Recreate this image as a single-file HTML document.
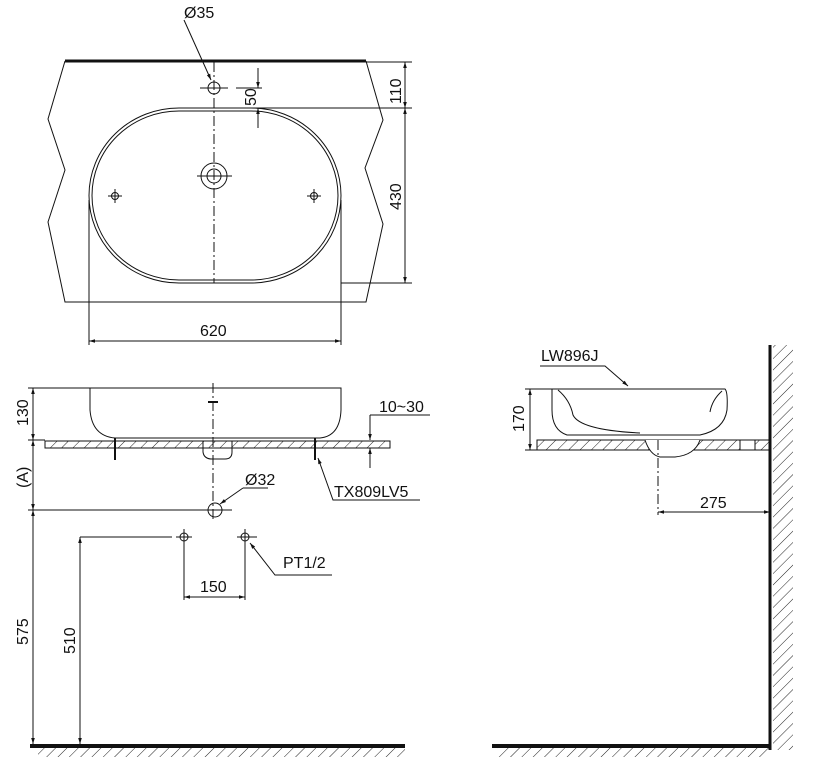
<!DOCTYPE html>
<html><head><meta charset="utf-8"><style>
html,body{margin:0;padding:0;background:#fff;}
svg{display:block;font-family:"Liberation Sans",Arial,sans-serif;}
text{font-size:16px;fill:#111;}
</style></head><body>
<svg width="816" height="778" viewBox="0 0 816 778" xmlns="http://www.w3.org/2000/svg">
<defs>
<pattern id="h" patternUnits="userSpaceOnUse" width="8" height="8" patternTransform="rotate(45)">
<line x1="0" y1="0" x2="0" y2="8" stroke="#222" stroke-width="1"/></pattern>
<marker id="a" viewBox="0 0 10 10" refX="10" refY="5" markerWidth="9" markerHeight="6" orient="auto-start-reverse"><path d="M0,2 L10,5 L0,8z" fill="#111"/></marker>
</defs>
<g fill="none" stroke="#111" stroke-width="1">
<!-- TOP VIEW -->
<path d="M65,61 L48,119 L65,170 L48,222 L65,302 L366,302 L383,224 L365,168 L383,120 L366,61"/>
<line x1="65" y1="61" x2="366" y2="61" stroke-width="3"/>
<rect x="89" y="108" width="252" height="175" rx="90" ry="87.5"/>
<rect x="92" y="111" width="246" height="169" rx="87" ry="84.5"/>
<line x1="214" y1="62" x2="214" y2="283" stroke-dasharray="10,3,2,3"/>
<circle cx="214" cy="88" r="6"/><line x1="200" y1="88" x2="228" y2="88"/>
<circle cx="214" cy="176" r="13"/><circle cx="214" cy="176" r="7"/>
<line x1="197" y1="176" x2="232" y2="176"/>
<circle cx="115" cy="196" r="3.5"/><line x1="108" y1="196" x2="122" y2="196"/><line x1="115" y1="189" x2="115" y2="203"/>
<circle cx="314" cy="196" r="3.5"/><line x1="307" y1="196" x2="321" y2="196"/><line x1="314" y1="189" x2="314" y2="203"/>
<path d="M184,20 L211,80" marker-end="url(#a)"/>
<line x1="236" y1="88" x2="262" y2="88"/><line x1="258" y1="68" x2="258" y2="88" marker-end="url(#a)"/>
<line x1="258" y1="128" x2="258" y2="108" marker-end="url(#a)"/>
<line x1="214" y1="108" x2="412" y2="108"/>
<line x1="366" y1="62" x2="412" y2="62"/>
<line x1="341" y1="283" x2="412" y2="283"/>
<line x1="405" y1="62" x2="405" y2="108" marker-start="url(#a)" marker-end="url(#a)"/>
<line x1="405" y1="108" x2="405" y2="283" marker-start="url(#a)" marker-end="url(#a)"/>
<line x1="89" y1="200" x2="89" y2="345"/><line x1="341" y1="200" x2="341" y2="345"/>
<line x1="89" y1="341" x2="341" y2="341" marker-start="url(#a)" marker-end="url(#a)"/>
<!-- FRONT VIEW -->
<path d="M90,388 L90,410 Q92,436 115,438 L320,438 Q340,436 341,410 L341,388 Z"/>
<rect x="45" y="441" width="345" height="7" fill="url(#h)"/>
<path d="M203,441 L203,452 Q204,459 212,459 L225,459 Q232,459 232,452 L232,441"/>
<line x1="213" y1="383" x2="213" y2="520" stroke-dasharray="10,3,2,3"/>
<line x1="208" y1="402" x2="218" y2="402" stroke-width="2"/>
<line x1="115" y1="438" x2="115" y2="460" stroke-width="2"/><line x1="315" y1="438" x2="315" y2="460" stroke-width="2"/>
<line x1="28" y1="388" x2="90" y2="388"/><line x1="28" y1="440" x2="45" y2="440"/>
<line x1="33" y1="388" x2="33" y2="440" marker-start="url(#a)" marker-end="url(#a)"/>
<line x1="33" y1="440" x2="33" y2="510" marker-start="url(#a)" marker-end="url(#a)"/>
<line x1="28" y1="510" x2="232" y2="510"/>
<circle cx="215" cy="510" r="7"/>
<path d="M243,488 L268,488"/><path d="M243,488 L220,504" marker-end="url(#a)"/>
<line x1="370" y1="415" x2="370" y2="440" marker-end="url(#a)"/><line x1="370" y1="415" x2="430" y2="415"/>
<line x1="370" y1="468" x2="370" y2="448" marker-end="url(#a)"/>
<path d="M420,500 L333,500 L318,458" marker-end="url(#a)"/>
<line x1="80" y1="537" x2="172" y2="537"/>
<circle cx="184" cy="537" r="4"/><line x1="176" y1="537" x2="192" y2="537"/><line x1="184" y1="529" x2="184" y2="600"/>
<circle cx="245" cy="537" r="4"/><line x1="237" y1="537" x2="257" y2="537"/><line x1="245" y1="529" x2="245" y2="600"/>
<line x1="184" y1="597" x2="245" y2="597" marker-start="url(#a)" marker-end="url(#a)"/>
<path d="M332,575 L275,575 L250,543" marker-end="url(#a)"/>
<line x1="33" y1="510" x2="33" y2="744" marker-start="url(#a)" marker-end="url(#a)"/>
<line x1="80" y1="537" x2="80" y2="744" marker-start="url(#a)" marker-end="url(#a)"/>
<rect x="38" y="748" width="367" height="9" fill="url(#h)" stroke="none"/>
<line x1="30" y1="746" x2="405" y2="746" stroke-width="4"/>
<!-- SIDE VIEW -->
<rect x="773" y="345" width="20" height="405" fill="url(#h)" stroke="none"/>
<line x1="770" y1="345" x2="770" y2="750" stroke-width="3"/>
<rect x="497" y="748" width="273" height="9" fill="url(#h)" stroke="none"/>
<line x1="492" y1="746" x2="771" y2="746" stroke-width="4"/>
<path d="M552,389 L725,389 Q728,392 727,410 Q724,430 700,435 L567,435 Q552,430 552,410 Z"/>
<path d="M558,390 Q570,400 573,415 Q580,430 640,433"/>
<path d="M722,391 Q712,400 710,412"/>
<rect x="537" y="440" width="233" height="10" fill="url(#h)"/>
<path d="M645,440 Q650,455 660,457 L675,457 Q695,455 700,440" fill="#fff"/>
<rect x="740" y="440" width="15" height="10" fill="#fff"/>
<line x1="658" y1="440" x2="658" y2="515" stroke-dasharray="10,3,2,3"/>
<line x1="525" y1="389" x2="552" y2="389"/><line x1="525" y1="450" x2="537" y2="450"/>
<line x1="530" y1="389" x2="530" y2="450" marker-start="url(#a)" marker-end="url(#a)"/>
<line x1="658" y1="512" x2="770" y2="512" marker-start="url(#a)" marker-end="url(#a)"/>
<path d="M540,366 L605,366 L628,386" marker-end="url(#a)"/>
</g>
<text x="184" y="18">Ø35</text>
<text transform="translate(256,106) rotate(-90)">50</text>
<text transform="translate(401,104) rotate(-90)">110</text>
<text transform="translate(401,210) rotate(-90)">430</text>
<text x="200" y="336">620</text>
<text transform="translate(28,426) rotate(-90)">130</text>
<text transform="translate(28,488) rotate(-90)">(A)</text>
<text x="245" y="485">Ø32</text>
<text x="379" y="412">10~30</text>
<text x="334" y="497">TX809LV5</text>
<text x="283" y="568">PT1/2</text>
<text x="200" y="592">150</text>
<text transform="translate(28,645) rotate(-90)">575</text>
<text transform="translate(75,654) rotate(-90)">510</text>
<text x="541" y="361">LW896J</text>
<text transform="translate(524,432) rotate(-90)">170</text>
<text x="700" y="508">275</text>
</svg>
</body></html>
